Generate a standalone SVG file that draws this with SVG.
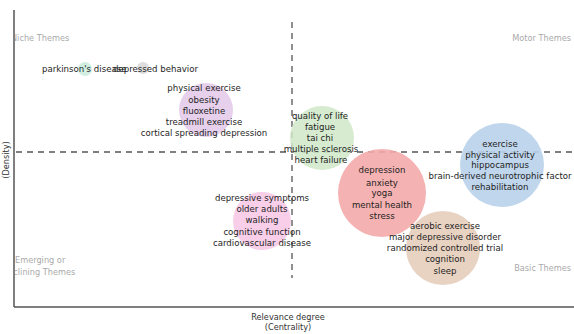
<svg xmlns="http://www.w3.org/2000/svg" width="574" height="334" viewBox="0 0 574 334">
<style>
text{font-family:"DejaVu Sans","Liberation Sans",sans-serif;font-size:8.6px;fill:#1e1e1e;text-anchor:middle}
.q{fill:#aaa;text-anchor:start;font-size:8.2px}
.qe{fill:#aaa;text-anchor:end;font-size:8.2px}
.ax{fill:#333;font-size:8.2px}
.dash{stroke:#555;stroke-width:1.3;stroke-dasharray:6 5;fill:none}
.axis{stroke:#555;stroke-width:1.5;fill:none}
</style>
<defs>
<clipPath id="clipL"><rect x="15" y="0" width="300" height="334"/></clipPath>
</defs>
<rect width="574" height="334" fill="#fff"/>
<g id="axes">
<line class="axis" x1="14" y1="10" x2="14" y2="307"/>
<line class="axis" x1="14" y1="307" x2="574" y2="307"/>
<text class="ax" x="288" y="320">Relevance degree</text>
<text class="ax" x="288" y="330">(Centrality)</text>
<text class="ax" transform="translate(9,160) rotate(-90)">(Density)</text>
</g>
<g id="quadrant-labels" clip-path="url(#clipL)">
<text class="q" x="11" y="41">Niche Themes</text>
<text class="q" x="15" y="263">Emerging or</text>
<text class="q" x="2" y="275">Declining Themes</text>
</g>
<g id="quadrant-labels-right">
<text class="qe" x="571" y="41">Motor Themes</text>
<text class="qe" x="571" y="271">Basic Themes</text>
</g>
<g id="connectors">
<line class="dash" x1="292" y1="22" x2="292" y2="278"/>
<line class="dash" x1="16" y1="152" x2="572" y2="152"/>
</g>
<g id="node-parkinson">
<circle cx="85" cy="69" r="7" fill="#c6ead9" opacity="0.8"/>
<text x="42" y="72" style="text-anchor:start">parkinson's disease</text>
</g>
<g id="node-depressed">
<circle cx="143" cy="68" r="6" fill="#d4d4d4" opacity="0.8"/>
<text x="198" y="72" style="text-anchor:end">depressed behavior</text>
</g>
<g id="node-physical-exercise">
<circle cx="206" cy="110" r="27" fill="#e2c8e8" opacity="0.85"/>
<text x="204" y="91">physical exercise</text>
<text x="204" y="103">obesity</text>
<text x="204" y="114">fluoxetine</text>
<text x="204" y="125">treadmill exercise</text>
<text x="204" y="136">cortical spreading depression</text>
</g>
<g id="node-quality">
<circle cx="322" cy="138" r="32" fill="#cfe8c8" opacity="0.85"/>
<text x="320" y="119">quality of life</text>
<text x="320" y="130">fatigue</text>
<text x="320" y="141">tai chi</text>
<text x="321" y="152">multiple sclerosis</text>
<text x="321" y="163">heart failure</text>
</g>
<g id="node-depressive-symptoms">
<circle cx="262" cy="221" r="29" fill="#f7c6e4" opacity="0.85"/>
<text x="262" y="201">depressive symptoms</text>
<text x="262" y="212">older adults</text>
<text x="262" y="223">walking</text>
<text x="262" y="235">cognitive function</text>
<text x="262" y="246">cardiovascular disease</text>
</g>
<g id="node-depression">
<circle cx="382" cy="193" r="44" fill="#f4aaaa" opacity="0.9"/>
<text x="382" y="173">depression</text>
<text x="382" y="186">anxiety</text>
<text x="382" y="196">yoga</text>
<text x="382" y="208">mental health</text>
<text x="382" y="219">stress</text>
</g>
<g id="node-exercise">
<circle cx="502" cy="165" r="42" fill="#b9d1ea" opacity="0.9"/>
<text x="500" y="147">exercise</text>
<text x="500" y="158">physical activity</text>
<text x="500" y="168">hippocampus</text>
<text x="500" y="179">brain-derived neurotrophic factor</text>
<text x="500" y="190">rehabilitation</text>
</g>
<g id="node-aerobic">
<circle cx="443" cy="248" r="37" fill="#e6cdbb" opacity="0.9"/>
<text x="445" y="229">aerobic exercise</text>
<text x="445" y="240">major depressive disorder</text>
<text x="445" y="251">randomized controlled trial</text>
<text x="445" y="262">cognition</text>
<text x="445" y="274">sleep</text>
</g>
</svg>
